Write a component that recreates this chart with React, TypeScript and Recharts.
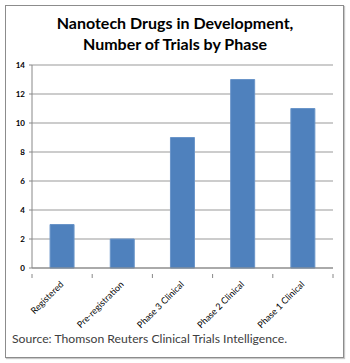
import React from "react";
import { BarChart, Bar, XAxis, YAxis, CartesianGrid } from "recharts";

const categories = ["Registered", "Pre-registration", "Phase 3 Clinical", "Phase 2 Clinical", "Phase 1 Clinical"];
const trials = [3, 2, 9, 13, 11];
const yTicks = [0, 2, 4, 6, 8, 10, 12, 14];
const titleLines = ["Nanotech Drugs in Development,", "Number of Trials by Phase"];
const sourceText = "Source: Thomson Reuters Clinical Trials Intelligence.";

const data = categories.map((c, i) => ({ name: c, value: trials[i] }));

const PLOT_LEFT = 32;
const PLOT_RIGHT = 333;
const BAND = (PLOT_RIGHT - PLOT_LEFT) / categories.length;

const XTick = (props: any) => {
  const { x, y, payload, index } = props;
  return (
    <g>
      <line x1={x - BAND / 2} y1={y - 2} x2={x - BAND / 2} y2={y + 2} stroke="#888" />
      {index === categories.length - 1 && (
        <line x1={x + BAND / 2} y1={y - 2} x2={x + BAND / 2} y2={y + 2} stroke="#888" />
      )}
      <text
        x={x + 2}
        y={y + 9}
        transform={`rotate(-45, ${x + 2}, ${y + 9})`}
        textAnchor="end"
        fontSize={9}
        fill="#000"
        fontFamily="Lato, sans-serif"
      >
        {payload.value}
      </text>
    </g>
  );
};

export default function App() {
  return (
    <div style={{ position: "absolute", left: 0, top: 0, width: 350, height: 363, background: "#fff" }}>
      <div
        style={{
          position: "absolute",
          left: 5,
          top: 5,
          width: 337,
          height: 351,
          border: "1px solid #8c8c8c",
          boxShadow: "1px 1px 1px #c8c8c8",
        }}
      />
      <div
        style={{
          position: "absolute",
          left: 0,
          top: 12,
          width: 350,
          textAlign: "center",
          fontFamily: "Lato, sans-serif",
          fontWeight: 700,
          fontSize: 16,
          lineHeight: "21px",
          color: "#000",
        }}
      >
        {titleLines.map((l) => (
          <div key={l}>{l}</div>
        ))}
      </div>
      <div style={{ position: "absolute", left: 0, top: 0 }}>
        <BarChart
          width={350}
          height={363}
          data={data}
          margin={{ top: 65, right: 17, bottom: 25, left: 8 }}
          barCategoryGap="30%"
        >
          <CartesianGrid vertical={false} stroke="#999" strokeWidth={1} />
          <XAxis
            dataKey="name"
            interval={0}
            height={70}
            tickLine={false}
            axisLine={{ stroke: "#888" }}
            tick={<XTick />}
          />
          <YAxis
            width={24}
            domain={[0, 14]}
            ticks={yTicks}
            interval={0}
            tickSize={3}
            tickMargin={4}
            axisLine={{ stroke: "#888" }}
            tickLine={{ stroke: "#888" }}
            tick={{ fontSize: 8, fontWeight: 700, fill: "#000", fontFamily: "Lato, sans-serif" }}
          />
          <Bar dataKey="value" fill="#4F81BD" stroke="#6a95c9" strokeWidth={1} isAnimationActive={false} />
        </BarChart>
      </div>
      <div
        style={{
          position: "absolute",
          left: 12,
          top: 331,
          fontFamily: "Lato, sans-serif",
          fontSize: 12.2,
          color: "#404040",
          whiteSpace: "nowrap",
        }}
      >
        {sourceText}
      </div>
    </div>
  );
}
